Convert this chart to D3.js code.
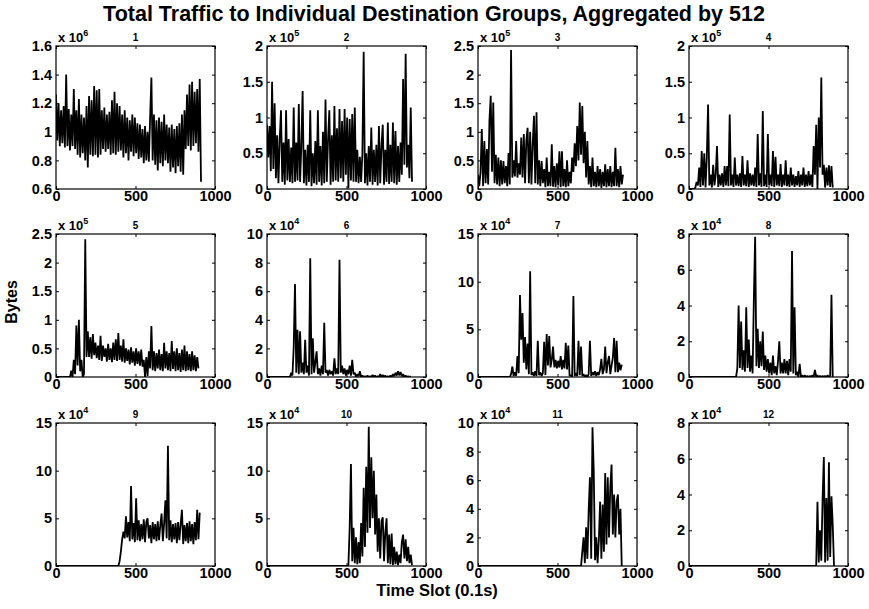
<!DOCTYPE html>
<html>
<head>
<meta charset="utf-8">
<script src="https://cdn.jsdelivr.net/npm/d3@7"></script>
<style>
  body { margin: 0; background: #fff; }
  svg text { font-family: "Liberation Sans", Arial, Helvetica, sans-serif; fill: #000; }
</style>
</head>
<body>
<svg id="chart" width="869" height="609"></svg>
<script>
// group labels and axis setup per subplot
const groupNames = ["1", "2", "3", "4", "5", "6", "7", "8", "9", "10", "11", "12"];
const yMin = [0.6, 0, 0, 0, 0, 0, 0, 0, 0, 0, 0, 0];
const yMax = [1.6, 2, 2.5, 2, 2.5, 10, 15, 8, 15, 15, 10, 8];
const yTicks = [
  [0.6, 0.8, 1, 1.2, 1.4, 1.6], [0, 0.5, 1, 1.5, 2], [0, 0.5, 1, 1.5, 2, 2.5], [0, 0.5, 1, 1.5, 2],
  [0, 0.5, 1, 1.5, 2, 2.5], [0, 2, 4, 6, 8, 10], [0, 5, 10, 15], [0, 2, 4, 6, 8],
  [0, 5, 10, 15], [0, 5, 10, 15], [0, 2, 4, 6, 8, 10], [0, 2, 4, 6, 8]
];
const exponents = [6, 5, 5, 5, 5, 4, 4, 4, 4, 4, 4, 4];
const xTicks = [0, 500, 1000];

// sampled traffic (in units of 10^exponent bytes), one value every slotStep slots from startSlots[i]
const slotStep = 8;
const startSlots = [0, 0, 0, 40, 96, 152, 208, 304, 392, 512, 648, 800];

const g1 = [1.26,0.94,1.2,0.9,1.15,0.92,1.18,0.89,1.4,0.9, 1.16,0.87,1.12,0.9,1.3,0.88,1.15,0.84,1.23,0.82,
  1.12,0.85,1.1,0.8,1.18,0.75,1.25,0.84,1.22,0.83, 1.32,0.84,1.29,0.82,1.3,0.84,1.15,0.88,1.17,0.86,
  1.12,0.88,1.14,0.84,1.22,0.85,1.28,0.84,1.2,0.86, 1.18,0.87,1.12,0.82,1.15,0.85,1.1,0.8,1.08,0.86,
  1.12,0.83,1.1,0.85,1.06,0.81,1.05,0.82,1.02,0.78, 1.04,0.8,1.0,0.79,1.1,1.38,0.8,1.12,0.77,1.08,
  0.73,1.1,0.78,1.07,0.76,1.12,0.8,1.05,0.78,1.03, 0.72,1.05,0.75,1.02,0.71,1.04,0.76,1.06,0.72,1.12,
  0.7,1.15,0.88,1.26,0.9,1.33,0.87,1.35,0.9,1.28, 0.92,1.3,0.86,1.37,0.65];
const g2 = [0.9,0.44,0.88,0.25,1.5,0.28,1.2,0.15,0.75,0.08, 0.7,1.1,0.1,0.65,0.06,1.1,0.12,0.7,0.1,0.58,
  0.08,1.14,0.1,0.65,0.12,1.19,0.1,0.6,1.37,0.08, 0.55,0.05,0.62,0.1,1.1,0.04,0.5,0.08,0.67,0.06,
  1.1,0.1,0.6,0.05,0.8,0.08,1.25,0.1,0.7,1.1, 0.06,0.75,0.1,1.16,0.12,0.85,0.1,1.12,0.15,0.95,
  0.1,1.12,0.2,1.0,0.01,0.98,0.12,1.05,0.1,1.14, 0.1,0.55,0.08,0.45,0.1,0.5,1.92,0.08,0.5,0.05,
  0.6,0.1,0.86,0.06,0.55,0.1,0.62,0.05,0.88,0.08, 0.6,0.9,0.06,0.55,0.1,0.93,0.07,0.62,0.1,0.93,
  0.08,0.81,0.06,0.6,0.1,0.65,0.2,1.54,0.34,1.89, 0.3,0.62,0.15,1.14,0.1];
const g3 = [0.25,0.05,0.3,1.05,0.05,0.84,0.1,0.7,0.08,1.2, 1.63,0.3,1.51,0.1,0.6,0.08,0.55,0.05,0.5,0.08,
  0.49,0.1,0.4,0.05,0.63,0.08,2.43,0.2,0.5,0.22, 0.84,0.2,0.45,0.25,0.9,0.2,0.96,0.1,0.85,1.07,
  0.1,1.0,0.08,0.78,1.28,0.1,1.34,0.08,0.5,0.05, 0.49,0.1,0.35,0.03,0.55,0.05,0.3,0.05,0.78,0.04,
  0.4,0.03,0.45,0.06,0.66,0.03,0.66,0.05,0.35,0.03, 0.5,0.05,0.3,0.1,0.55,0.3,0.8,0.4,1.1,0.5,
  1.51,0.6,1.45,0.45,1.0,0.2,0.84,0.08,0.4,0.03, 0.55,0.05,0.3,0.03,0.4,0.05,0.35,0.02,0.3,0.05,
  0.43,0.03,0.35,0.05,0.4,0.03,0.3,0.05,0.72,0.05, 0.35,0.03,0.4,0.08,0.25];
const g4 = [0.02,0.1,0.05,0.3,0.03,0.53,0.05,0.5,0.02,0.44, 1.18,0.05,0.2,0.02,0.34,0.05,0.2,0.6,0.03,0.2,
  0.05,0.22,0.03,0.32,0.05,0.32,0.04,1.04,0.05,0.2, 0.03,0.44,0.05,0.2,0.04,0.22,0.03,0.46,0.05,0.2,
  0.04,0.4,0.03,0.22,0.05,0.2,0.04,0.3,0.03,0.77, 0.05,0.22,0.03,1.09,0.04,0.2,0.03,0.77,0.05,0.2,
  0.04,0.53,0.03,0.45,0.05,0.2,0.04,0.35,0.03,0.2, 0.05,0.4,0.04,0.2,0.03,0.3,0.05,0.2,0.03,0.18,
  0.05,0.25,0.03,0.2,0.05,0.3,0.03,0.2,0.04,0.25, 0.05,0.2,0.03,0.6,0.2,0.9,0.0,1.0,0.3,1.56,
  0.2,0.34,0.02,0.3,0.05,0.33,0.03,0.32,0.02];
const g5 = [0.11,0.0,0.3,0.05,0.9,0.2,1.0,0.1,0.3,0.0, 0.05,2.41,0.35,0.8,0.35,0.7,0.32,0.75,0.38,0.6,
  0.33,0.55,0.3,0.72,0.28,0.55,0.35,0.5,0.27,0.58, 0.3,0.5,0.26,0.6,0.3,0.66,0.28,0.77,0.3,0.55,
  0.27,0.66,0.25,0.5,0.28,0.48,0.22,0.52,0.25,0.45, 0.2,0.5,0.23,0.45,0.2,0.48,0.18,0.3,0.0,0.35,
  0.02,0.45,0.15,0.89,0.12,0.45,0.1,0.42,0.15,0.48, 0.12,0.4,0.1,0.6,0.15,0.45,0.12,0.42,0.1,0.63,
  0.14,0.45,0.1,0.5,0.12,0.42,0.09,0.48,0.12,0.55, 0.1,0.45,0.12,0.4,0.1,0.45,0.12,0.38,0.1,0.35,
  0.15];
const g6 = [0.3,0.1,2.1,6.5,0.3,3.3,0.2,3.2,0.3,1.0, 0.2,2.6,0.3,0.8,0.1,8.3,0.2,2.7,0.3,1.0,
  1.8,0.2,0.6,0.1,0.8,0.2,3.8,0.3,0.5,0.1, 0.5,0.2,0.4,0.1,1.3,0.2,0.6,0.2,8.2,0.3,
  0.8,0.2,0.6,0.1,0.5,0.2,0.8,0.1,1.2,0.2, 0.3,0,0.2,0.05,0.4,0,0.1,0,0.05,0,
  0.1,0,0.05,0,0.15,0,0.1,0,0.05,0, 0.2,0,0.15,0,0.1,0,0.05,0,0.1,0,
  0.2,0.05,0.3,0.1,0.4,0.1,0.35,0.05,0.2,0, 0.1,0,0.05,0,0.05];
const g7 = [0.3,1.1,0.1,0.5,0.1,2.2,0.4,8.6,3.9,6.7, 1.5,4.2,0.8,3.5,0.3,11.1,0.2,0.5,0.1,0.6,
  0.1,3.8,0.2,0.5,0.1,0.4,3.7,0.2,4.5,1.2, 4.3,1.0,1.8,3.2,1.0,1.8,0.9,1.7,1.0,2.2,
  0.8,1.8,0.9,3.6,0.8,3.3,0.1,0.2,0.0,8.5, 0.1,0.4,0.1,3.8,0.2,3.2,0.1,0.3,0.0,0.2,
  0.0,0.3,3.8,0.1,0.5,0.2,0.6,0.1,0.5,0.2, 0.8,1.9,0.3,0.8,3.2,0.4,1.5,2.2,0.3,1.2,
  2.0,4.1,0.5,3.8,0.5,1.5,0.7,1.3];
const g8 = [0.5,4.0,0.5,3.1,0.4,1.5,0.3,3.9,0.5,2.1, 0.3,1.2,0.2,4.4,7.85,0.6,2.7,0.5,2.0,0.6,
  2.55,0.4,1.2,0.3,1.0,0.2,0.8,0.1,1.2,0.2, 0.6,0.1,0.9,2.0,0.2,0.8,0.2,1.0,0.2,0.9,
  0.1,1.0,0.3,7.05,0.2,3.9,0.1,0.3,0.0,0.74, 0.0,0.1,0,0.1,0,0.05,0,0.05,0,0.1,
  0,0.4,0,0.1,0,0.05,0,0.05,0,0.05, 0,0.1,0,0.05,4.6,0.0];
const g9 = [0.0,0.5,1.5,2.8,3.6,2.9,5.2,3.0,4.6,2.6, 8.4,2.8,4.5,2.5,7.1,2.7,4.8,2.6,4.4,2.8,
  4.9,2.5,4.6,5.0,2.9,4.3,2.4,4.6,2.8,4.4, 2.6,4.7,2.7,4.3,5.5,2.6,4.5,6.9,2.9,12.6,
  2.7,4.8,2.5,4.4,2.8,4.5,2.4,4.6,2.7,4.4, 5.9,2.3,4.3,2.6,4.5,2.4,4.7,2.6,4.4,2.3,
  4.6,2.7,5.9,2.8,5.6];
const g10 = [0.1,4.0,10.7,0.5,4.0,0.3,3.0,0.2,2.5,0.3, 4.5,1.0,8.2,2.0,10.4,3.5,14.6,4.0,11.4,5.0,
  10.0,3.3,7.5,1.5,5.0,0.8,4.7,5.1,0.5,3.5, 5.0,0.3,3.3,0.2,3.4,0.1,2.0,0.2,1.5,0.1,
  1.2,0.3,2.5,3.3,0.8,2.8,0.5,2.0,0.3,1.2, 0.1];
const g11 = [0.0,1.0,2.0,0.2,2.7,0.5,3.9,6.2,0.5,9.7, 6.6,0.4,2.0,0.2,1.8,4.5,0.5,4.3,1.0,6.5,
  1.5,6.2,2.0,5.5,7.1,2.2,5.0,2.0,4.5,5.0, 2.2,4.0,0.0];
const g12 = [0.0,3.6,0.2,2.0,0.3,3.7,6.1,0.2,3.8,0.3, 5.8,0.5,3.9,2.3,0.0];
const series = [g1, g2, g3, g4, g5, g6, g7, g8, g9, g10, g11, g12];

// layout of the 3x4 subplot grid
const colLeft = [56, 267, 478, 689];
const rowTop = [46, 234, 423];
const W = 159, H = 143;

const svg = d3.select("#chart");
const fmt = (d) => String(d);

svg.append("text").attr("x", 434).attr("y", 21).attr("text-anchor", "middle")
  .style("font-size", "21.5px").style("font-weight", "bold")
  .text("Total Traffic to Individual Destination Groups, Aggregated by 512");

svg.append("text").attr("transform", "translate(17,302) rotate(-90)").attr("text-anchor", "middle")
  .style("font-size", "16px").style("font-weight", "bold").text("Bytes");

svg.append("text").attr("x", 437).attr("y", 596).attr("text-anchor", "middle")
  .style("font-size", "16.5px").style("font-weight", "bold").text("Time Slot (0.1s)");

series.forEach((vals, i) => {
  const left = colLeft[i % 4], top = rowTop[Math.floor(i / 4)];
  const x = d3.scaleLinear().domain([0, 1000]).range([left, left + W]);
  const y = d3.scaleLinear().domain([yMin[i], yMax[i]]).range([top + H, top]);
  const g = svg.append("g");

  // zero traffic before the group's first activity
  const pts = vals.map((v, k) => [startSlots[i] + k * slotStep, v]);
  if (startSlots[i] > 0) pts.unshift([0, 0], [startSlots[i] - slotStep, 0]);

  g.append("clipPath").attr("id", "clip" + i).append("rect")
    .attr("x", left).attr("y", top).attr("width", W).attr("height", H);

  g.append("path").datum(pts).attr("clip-path", `url(#clip${i})`)
    .attr("fill", "none").attr("stroke", "#000").attr("stroke-width", 1.8)
    .attr("stroke-linejoin", "bevel")
    .attr("d", d3.line().x((d) => x(d[0])).y((d) => y(Math.max(yMin[i], d[1]))));

  // inward ticks on all four sides, like a boxed Matlab axes
  const ax = g.append("g");
  ax.append("g").attr("transform", `translate(0,${top + H})`)
    .call(d3.axisBottom(x).tickValues(xTicks).tickSize(-3).tickPadding(2).tickFormat(fmt));
  ax.append("g").attr("transform", `translate(0,${top})`)
    .call(d3.axisTop(x).tickValues(xTicks).tickSize(-3).tickFormat(""));
  ax.append("g").attr("transform", `translate(${left},0)`)
    .call(d3.axisLeft(y).tickValues(yTicks[i]).tickSize(-3).tickPadding(4).tickFormat(fmt));
  ax.append("g").attr("transform", `translate(${left + W},0)`)
    .call(d3.axisRight(y).tickValues(yTicks[i]).tickSize(-3).tickFormat(""));
  ax.selectAll(".domain").remove();
  ax.selectAll("text").attr("fill", "#000")
    .style("font-family", "'Liberation Sans', Arial, sans-serif")
    .style("font-size", "14.5px").style("font-weight", "bold");
  ax.selectAll("line").attr("stroke", "#000");

  g.append("rect").attr("x", left).attr("y", top).attr("width", W).attr("height", H)
    .attr("fill", "none").attr("stroke", "#000").attr("stroke-width", 1.2);

  const ex = g.append("text").attr("x", left + 2).attr("y", top - 4)
    .style("font-size", "13px").style("font-weight", "bold");
  ex.append("tspan").text("x 10");
  ex.append("tspan").attr("dy", -6).style("font-size", "9px").text(exponents[i]);

  g.append("text").attr("x", left + W / 2).attr("y", top - 5).attr("text-anchor", "middle")
    .style("font-size", "10px").style("font-weight", "bold").text(groupNames[i]);
});
</script>
</body>
</html>
